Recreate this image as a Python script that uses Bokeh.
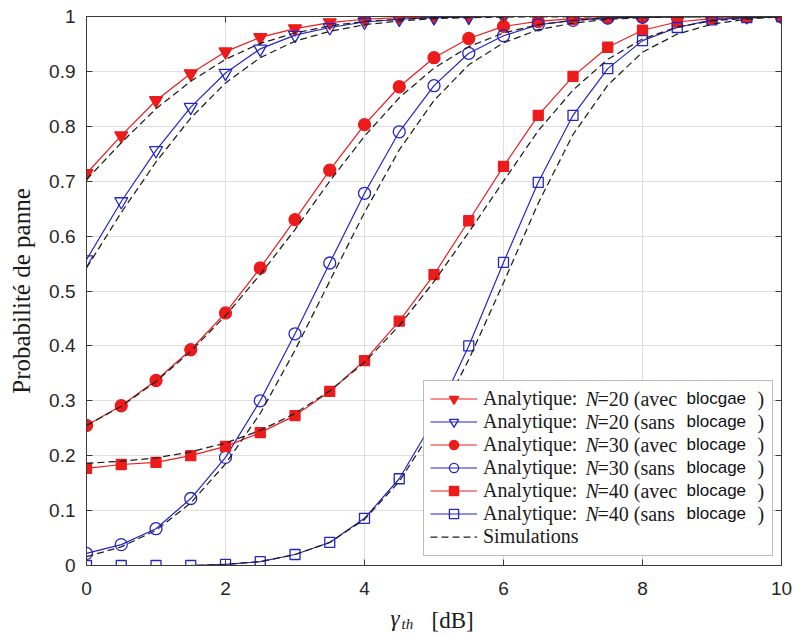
from bokeh.plotting import figure
from bokeh.layouts import column
from bokeh.models import (Range1d, FixedTicker, LinearAxis, Legend, LegendItem,
                          Label, BoxAnnotation, CustomJSTickFormatter)
from bokeh.embed import file_html
from bokeh.resources import INLINE

# Threshold SNR gamma_th in dB
gamma_db = [0, 0.5, 1, 1.5, 2, 2.5, 3, 3.5, 4, 4.5, 5,
            5.5, 6, 6.5, 7, 7.5, 8, 8.5, 9, 9.5, 10]

# Analytical outage probability
ana_n20_avec = [0.714, 0.783, 0.847, 0.896, 0.936, 0.962, 0.978, 0.989, 0.995, 0.998, 0.999,
                1.0, 1.0, 1.0, 1.0, 1.0, 1.0, 1.0, 1.0, 1.0, 1.0]
ana_n20_sans = [0.557, 0.663, 0.756, 0.835, 0.897, 0.941, 0.966, 0.980, 0.990, 0.995, 0.998,
                0.999, 1.0, 1.0, 1.0, 1.0, 1.0, 1.0, 1.0, 1.0, 1.0]
ana_n30_avec = [0.255, 0.291, 0.337, 0.393, 0.460, 0.542, 0.630, 0.720, 0.803, 0.872, 0.925,
                0.960, 0.982, 0.991, 0.996, 0.998, 0.999, 1.0, 1.0, 1.0, 1.0]
ana_n30_sans = [0.022, 0.038, 0.067, 0.122, 0.197, 0.300, 0.422, 0.551, 0.678, 0.790, 0.874,
                0.933, 0.965, 0.985, 0.993, 0.997, 0.999, 1.0, 1.0, 1.0, 1.0]
ana_n40_avec = [0.177, 0.184, 0.188, 0.200, 0.217, 0.242, 0.273, 0.317, 0.373, 0.445, 0.530,
                0.628, 0.727, 0.820, 0.891, 0.944, 0.975, 0.990, 0.996, 0.999, 1.0]
ana_n40_sans = [0.000, 0.000, 0.000, 0.000, 0.002, 0.007, 0.020, 0.042, 0.086, 0.158, 0.265,
                0.400, 0.552, 0.698, 0.820, 0.905, 0.956, 0.980, 0.994, 0.998, 1.0]

# Monte-Carlo simulations
sim_n20_avec = [0.703, 0.770, 0.832, 0.882, 0.922, 0.951, 0.970, 0.983, 0.991, 0.995, 0.998,
                0.999, 1.0, 1.0, 1.0, 1.0, 1.0, 1.0, 1.0, 1.0, 1.0]
sim_n20_sans = [0.542, 0.643, 0.735, 0.815, 0.879, 0.925, 0.955, 0.973, 0.985, 0.992, 0.996,
                0.998, 0.999, 1.0, 1.0, 1.0, 1.0, 1.0, 1.0, 1.0, 1.0]
sim_n30_avec = [0.255, 0.290, 0.335, 0.390, 0.455, 0.530, 0.612, 0.700, 0.782, 0.852, 0.906,
                0.945, 0.970, 0.985, 0.993, 0.997, 0.999, 1.0, 1.0, 1.0, 1.0]
sim_n30_sans = [0.016, 0.034, 0.064, 0.114, 0.185, 0.277, 0.392, 0.518, 0.643, 0.757, 0.847,
                0.912, 0.952, 0.976, 0.988, 0.995, 0.998, 0.999, 1.0, 1.0, 1.0]
sim_n40_avec = [0.186, 0.190, 0.196, 0.207, 0.223, 0.246, 0.277, 0.318, 0.370, 0.437, 0.517,
                0.607, 0.700, 0.792, 0.866, 0.922, 0.959, 0.981, 0.992, 0.997, 1.0]
sim_n40_sans = [0.000, 0.000, 0.000, 0.000, 0.002, 0.007, 0.020, 0.042, 0.084, 0.153, 0.252,
                0.375, 0.515, 0.660, 0.785, 0.875, 0.935, 0.968, 0.986, 0.995, 1.0]

x_ticks = [0, 2, 4, 6, 8, 10]
y_ticks = [0, 0.1, 0.2, 0.3, 0.4, 0.5, 0.6, 0.7, 0.8, 0.9, 1]
y_tick_labels = ["0", "0.1", "0.2", "0.3", "0.4", "0.5", "0.6", "0.7", "0.8", "0.9", "1"]

# legend text pieces: (N value, mode, blocking word)
legend_rows = [("=20", "avec", "blocgae"), ("=20", "sans", "blocage"),
               ("=30", "avec", "blocage"), ("=30", "sans", "blocage"),
               ("=40", "avec", "blocage"), ("=40", "sans", "blocage")]

RED = "#ec1c1c"
BLUE = "#2525c4"
AXIS = "#3a3a3a"
TICK_TXT = "#262626"
TXT = "#1a1a1a"
SERIF = "Liberation Serif"

p = figure(width=794, height=605, output_backend="svg", toolbar_location=None,
           x_range=Range1d(0, 10), y_range=Range1d(0, 1),
           min_border_left=86, min_border_right=13, min_border_top=16, min_border_bottom=40,
           background_fill_color="white", border_fill_color="white")

p.outline_line_color = AXIS
p.outline_line_width = 1

xt = FixedTicker(ticks=x_ticks)
yt = FixedTicker(ticks=y_ticks)
p.xaxis.ticker = xt
p.yaxis.ticker = yt
p.yaxis.major_label_overrides = dict(zip(y_ticks, y_tick_labels))

for ax in (p.xaxis[0], p.yaxis[0]):
    ax.axis_line_color = AXIS
    ax.major_tick_line_color = AXIS
    ax.major_tick_in = 6
    ax.major_tick_out = 0
    ax.minor_tick_line_color = None
    ax.major_label_text_font = "Liberation Sans"
    ax.major_label_text_font_size = "19px"
    ax.major_label_text_color = TICK_TXT
p.xaxis.major_label_standoff = 16
p.yaxis.major_label_standoff = 11

p.yaxis.axis_label = "Probabilité de panne"
p.yaxis.axis_label_text_font = SERIF
p.yaxis.axis_label_text_font_size = "25px"
p.yaxis.axis_label_text_font_style = "normal"
p.yaxis.axis_label_text_color = TXT
p.yaxis.axis_label_standoff = 11

# mirrored tick marks on top and right
blank = CustomJSTickFormatter(code="return ''")
top_ax = LinearAxis(ticker=xt, formatter=blank)
right_ax = LinearAxis(ticker=yt, formatter=blank)
for ax in (top_ax, right_ax):
    ax.axis_line_color = AXIS
    ax.major_tick_line_color = AXIS
    ax.major_tick_in = 6
    ax.major_tick_out = 0
    ax.minor_tick_line_color = None
    ax.major_label_text_font_size = "1px"
    ax.major_label_standoff = 0
p.add_layout(top_ax, "above")
p.add_layout(right_ax, "right")

p.xgrid.grid_line_color = "#dedede"
p.ygrid.grid_line_color = "#dedede"

series = [
    (ana_n20_avec, RED, "inverted_triangle", RED, 13),
    (ana_n20_sans, BLUE, "inverted_triangle", None, 13),
    (ana_n30_avec, RED, "circle", RED, 12),
    (ana_n30_sans, BLUE, "circle", None, 12),
    (ana_n40_avec, RED, "square", RED, 10),
    (ana_n40_sans, BLUE, "square", None, 10),
]

items = []
for vals, col, mk, fill, sz in series:
    rl = p.line(gamma_db, vals, line_color=col, line_width=1.2)
    rm = p.scatter(gamma_db, vals, marker=mk, size=sz, line_color=col, line_width=1.3,
                   fill_color=fill if fill else "white", fill_alpha=1.0 if fill else 0.0)
    items.append(LegendItem(label="Analytique:", renderers=[rl, rm]))

sim_r = None
for vals in (sim_n20_avec, sim_n20_sans, sim_n30_avec, sim_n30_sans, sim_n40_avec, sim_n40_sans):
    r = p.line(gamma_db, vals, line_color="#1e1e1e", line_width=1.25, line_dash="7 4")
    if sim_r is None:
        sim_r = r
items.append(LegendItem(label="Simulations", renderers=[sim_r]))

# legend frame
p.add_layout(BoxAnnotation(left=337, right=686, bottom=10, top=185,
                           left_units="screen", right_units="screen",
                           bottom_units="screen", top_units="screen",
                           fill_color="white", fill_alpha=1.0,
                           line_color="#262626", line_width=1))

legend = Legend(items=items, location=(341, 14), orientation="vertical",
                padding=3, spacing=0, glyph_height=23, glyph_width=47, label_height=20,
                label_standoff=6, margin=0,
                label_text_font=SERIF, label_text_font_size="20px",
                label_text_color=TXT,
                border_line_alpha=0, background_fill_alpha=0)
p.add_layout(legend)

for i, (nval, mode, word) in enumerate(legend_rows):
    y = 167 - 23 * i
    p.add_layout(Label(x=499, y=y, x_units="screen", y_units="screen", text="N",
                       text_font=SERIF, text_font_style="italic", text_font_size="20px",
                       text_color=TXT, text_baseline="middle"))
    p.add_layout(Label(x=511, y=y, x_units="screen", y_units="screen",
                       text=f"{nval} ({mode}",
                       text_font=SERIF, text_font_size="20px",
                       text_color=TXT, text_baseline="middle"))
    p.add_layout(Label(x=600, y=y, x_units="screen", y_units="screen", text=word,
                       text_font="Liberation Sans", text_font_size="17px",
                       text_color="#111111", text_baseline="middle"))
    p.add_layout(Label(x=671, y=y, x_units="screen", y_units="screen", text=")",
                       text_font=SERIF, text_font_size="20px",
                       text_color=TXT, text_baseline="middle"))

# x axis title strip below the plot: gamma_th [dB]
# (its frame lines up with the main plot frame, so x is measured from x = 0 dB)
q = figure(width=794, height=31, output_backend="svg", toolbar_location=None,
           x_range=Range1d(0, 1), y_range=Range1d(0, 1),
           x_axis_type=None, y_axis_type=None, min_border=0,
           outline_line_color=None, background_fill_color="white",
           border_fill_color="white")
q.grid.visible = False
q.add_layout(Label(x=304, y=18, x_units="screen", y_units="screen", text="γ",
                   text_font=SERIF, text_font_style="italic", text_font_size="23px",
                   text_color=TXT, text_baseline="alphabetic"))
q.add_layout(Label(x=315, y=13, x_units="screen", y_units="screen", text="th",
                   text_font=SERIF, text_font_style="italic", text_font_size="15px",
                   text_color=TXT, text_baseline="alphabetic"))
q.add_layout(Label(x=345, y=16, x_units="screen", y_units="screen", text="[dB]",
                   text_font=SERIF, text_font_size="23px",
                   text_color=TXT, text_baseline="alphabetic"))

layout = column(p, q, spacing=0)
open("out.html", "w").write(file_html(layout, INLINE))
